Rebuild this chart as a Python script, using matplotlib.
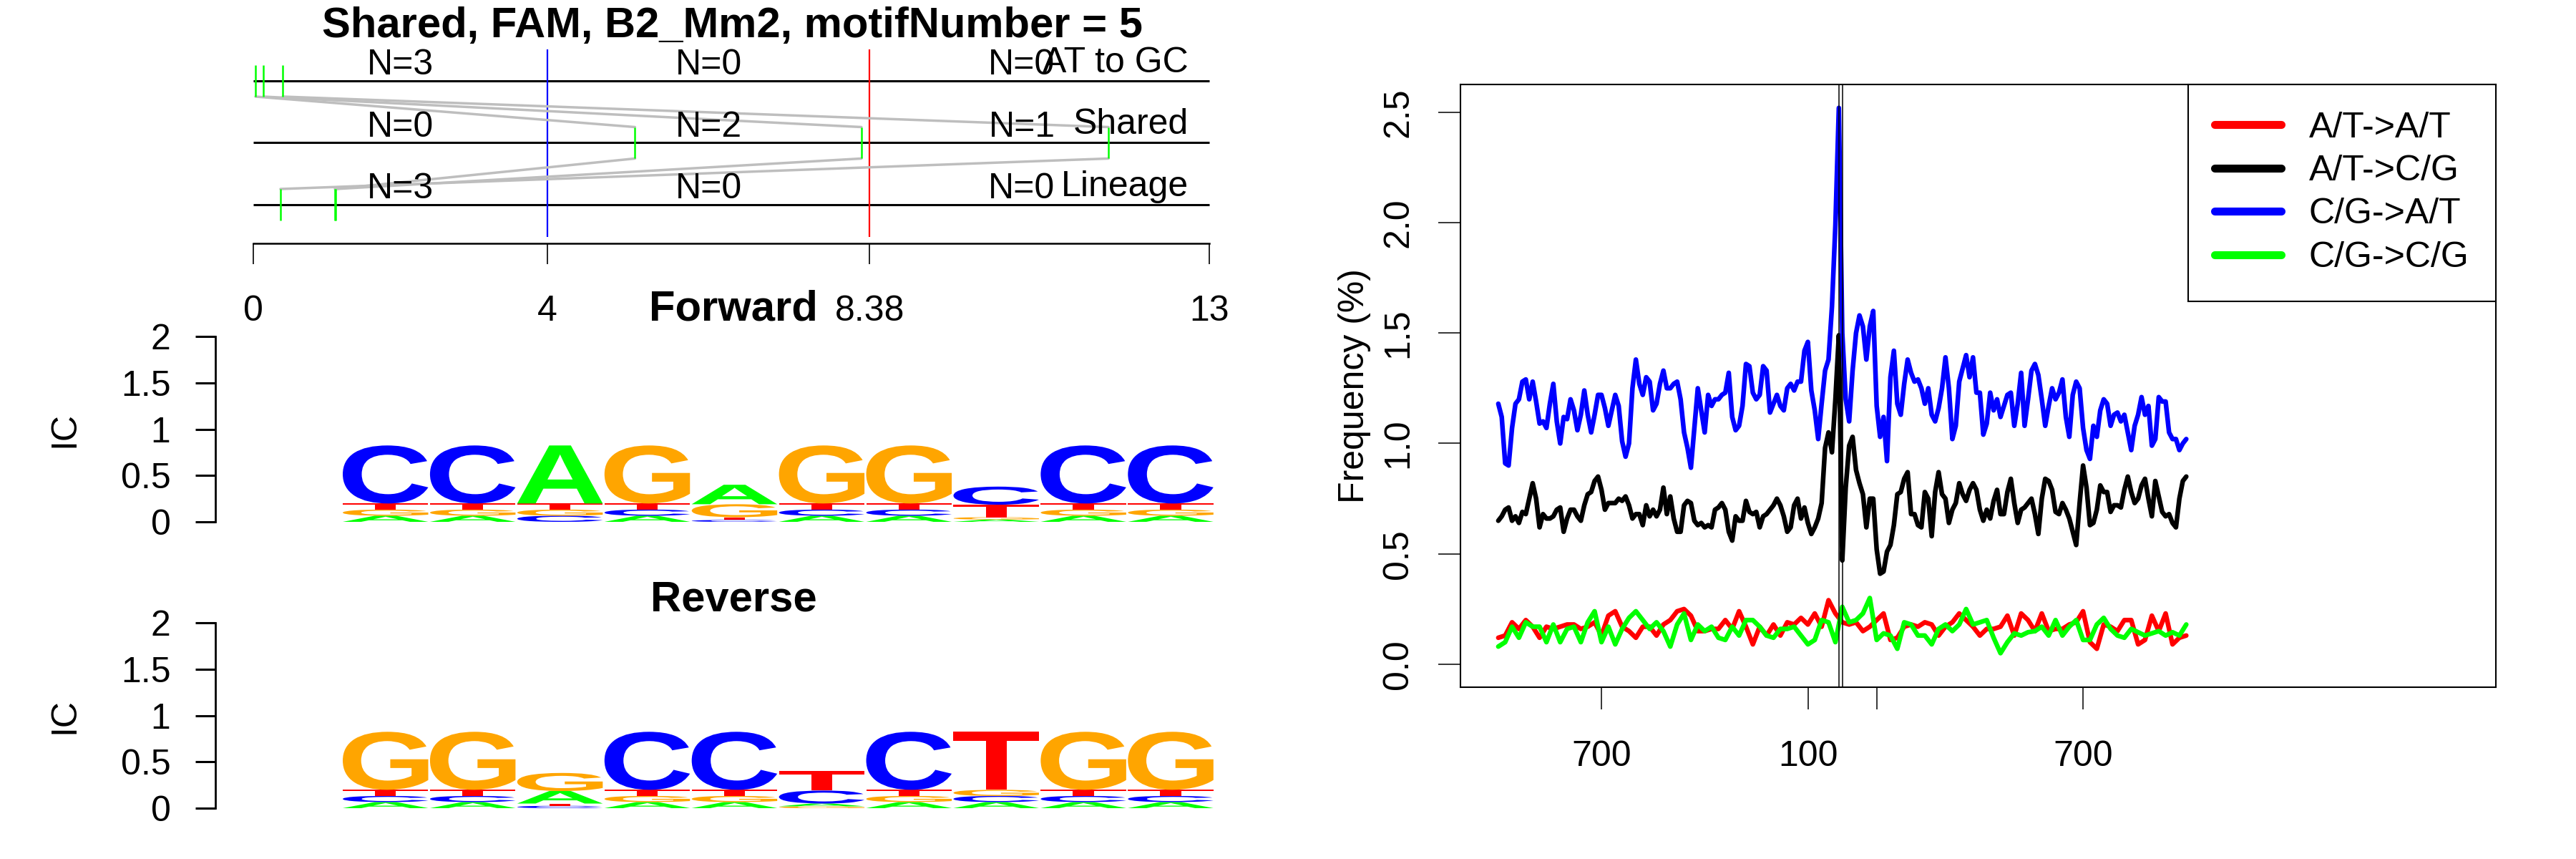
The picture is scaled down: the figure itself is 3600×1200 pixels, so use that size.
import numpy as np
import matplotlib
matplotlib.use('Agg')
import matplotlib.pyplot as plt
from matplotlib.textpath import TextPath
from matplotlib.patches import PathPatch
from matplotlib.font_manager import FontProperties
from matplotlib.transforms import Affine2D

plt.rcParams['font.family'] = ['Liberation Sans', 'DejaVu Sans']
plt.rcParams['font.size'] = 36

# ---------------- top panel: sites along the motif region
title_top = 'Shared, FAM, B2_Mm2, motifNumber = 5'
row_names = ['AT to GC', 'Shared', 'Lineage']
row_y = [3, 2, 1]
seg_breaks = [0, 4, 8.38, 13]
seg_tick_labels = ['0', '4', '8.38', '13']
n_label_x = [2.0, 6.19, 10.45]
site_pos = [[0.03, 0.135, 0.40],
            [5.19, 8.27, 11.63],
            [0.37, 1.11, 1.12]]
# index pairs: row 1 site -> row 2 site, row 2 site -> row 3 site
links_1_2 = [(0, 0), (1, 1), (2, 2)]
links_2_3 = [(0, 1), (1, 2), (2, 0)]

# ---------------- forward motif logo (heights in bits, columns 1..10)
logo_A = [0.066, 0.066, 0.626, 0.066, 0.21, 0.066, 0.066, 0.025, 0.066, 0.066]
logo_C = [0.626, 0.626, 0.066, 0.066, 0.02, 0.066, 0.066, 0.195, 0.626, 0.626]
logo_G = [0.066, 0.066, 0.066, 0.626, 0.14, 0.626, 0.626, 0.025, 0.066, 0.066]
logo_T = [0.066, 0.066, 0.066, 0.066, 0.03, 0.066, 0.066, 0.135, 0.066, 0.066]
ic_ticks = [0, 0.5, 1, 1.5, 2]
ic_labels = ['0', '0.5', '1', '1.5', '2']

# ---------------- right panel: mutation frequency around motif (%)
pos10 = np.arange(-1000, 1001, 10)
pos20 = np.arange(-1000, 1001, 20)
at_at = [0.12, 0.13, 0.19, 0.16, 0.20, 0.17, 0.12, 0.17, 0.16, 0.17,
         0.18, 0.18, 0.16, 0.17, 0.19, 0.13, 0.22, 0.24, 0.17, 0.15,
         0.12, 0.17, 0.17, 0.13, 0.18, 0.20, 0.24, 0.25, 0.22, 0.15,
         0.15, 0.16, 0.16, 0.20, 0.16, 0.24, 0.17, 0.09, 0.17, 0.13,
         0.18, 0.13, 0.19, 0.18, 0.21, 0.18, 0.23, 0.17, 0.29, 0.23,
         0.19,
         0.18, 0.19, 0.15, 0.17, 0.20, 0.23, 0.11, 0.12, 0.17, 0.18,
         0.17, 0.19, 0.18, 0.13, 0.17, 0.19, 0.23, 0.20, 0.17, 0.13,
         0.16, 0.16, 0.17, 0.22, 0.13, 0.23, 0.20, 0.15, 0.23, 0.15,
         0.16, 0.16, 0.18, 0.19, 0.24, 0.10, 0.07, 0.18, 0.17, 0.15,
         0.20, 0.20, 0.09, 0.11, 0.22, 0.15, 0.23, 0.09, 0.12, 0.13]
at_cg = [0.65, 0.67, 0.70, 0.71, 0.65, 0.67, 0.64, 0.69, 0.68, 0.75,
         0.82, 0.75, 0.62, 0.68, 0.66, 0.66, 0.67, 0.70, 0.71, 0.60,
         0.66, 0.70, 0.70, 0.67, 0.65, 0.72, 0.77, 0.78, 0.83, 0.85,
         0.79, 0.70, 0.73, 0.73, 0.73, 0.75, 0.74, 0.76, 0.72, 0.66,
         0.68, 0.68, 0.63, 0.72, 0.67, 0.70, 0.67, 0.70, 0.80, 0.68,
         0.76, 0.66, 0.60, 0.60, 0.72, 0.74, 0.73, 0.65, 0.63, 0.64,
         0.62, 0.63, 0.62, 0.70, 0.71, 0.73, 0.70, 0.60, 0.56,
         0.67, 0.65, 0.65, 0.74, 0.69, 0.68, 0.69, 0.62, 0.67, 0.68,
         0.70, 0.72, 0.75, 0.72, 0.67, 0.60, 0.62, 0.72, 0.75, 0.66,
         0.71, 0.64, 0.59, 0.62, 0.66, 0.73, 0.98, 1.05, 0.96, 1.20,
         1.49, 0.47, 0.80, 0.99, 1.03, 0.88, 0.82, 0.77, 0.62, 0.75,
         0.75, 0.52, 0.41, 0.42, 0.51, 0.54, 0.63, 0.77, 0.78, 0.84,
         0.87, 0.68, 0.68, 0.63, 0.62, 0.78, 0.75, 0.58, 0.78, 0.87,
         0.77, 0.75, 0.64, 0.70, 0.73, 0.82,
         0.77, 0.74, 0.79, 0.82, 0.79, 0.70, 0.65, 0.70, 0.66, 0.74,
         0.79, 0.68, 0.68, 0.78, 0.84, 0.73, 0.64, 0.70, 0.71, 0.73,
         0.75, 0.68, 0.59, 0.75, 0.84, 0.83, 0.79, 0.69, 0.68, 0.73,
         0.70, 0.66, 0.60, 0.54, 0.73, 0.90, 0.80, 0.63, 0.64, 0.70,
         0.81, 0.78, 0.78, 0.69, 0.72, 0.72, 0.71, 0.79, 0.85, 0.78,
         0.73, 0.75, 0.81, 0.84, 0.75, 0.67, 0.83, 0.76, 0.69, 0.67,
         0.68, 0.64, 0.62, 0.75, 0.83, 0.85]
cg_at = [1.18, 1.12, 0.91, 0.90, 1.07, 1.18, 1.20, 1.28, 1.29, 1.20,
         1.28, 1.19, 1.09, 1.10, 1.07, 1.18, 1.27, 1.10, 1.00, 1.12,
         1.11, 1.20, 1.15, 1.06, 1.13, 1.24, 1.13, 1.05, 1.13, 1.22,
         1.22, 1.16, 1.08, 1.15, 1.22, 1.17, 1.01, 0.94, 1.00, 1.25,
         1.38, 1.27, 1.22, 1.30, 1.28, 1.15, 1.18, 1.27, 1.33, 1.25,
         1.25, 1.27, 1.28, 1.20, 1.05, 0.98, 0.89, 1.07, 1.25, 1.15,
         1.05, 1.22, 1.17, 1.20, 1.20, 1.22, 1.23, 1.32, 1.12,
         1.06, 1.08, 1.17, 1.36, 1.35, 1.23, 1.20, 1.22, 1.35, 1.33,
         1.14, 1.18, 1.22, 1.17, 1.15, 1.25, 1.27, 1.24, 1.28, 1.28,
         1.42, 1.46, 1.24, 1.15, 1.02, 1.18, 1.33, 1.38, 1.62, 1.99,
         2.52, 1.50, 1.20, 1.10, 1.33, 1.50, 1.58, 1.53, 1.38, 1.53,
         1.60, 1.17, 1.03, 1.12, 0.92, 1.30, 1.42, 1.18, 1.13, 1.27,
         1.38, 1.32, 1.28, 1.29, 1.25, 1.18, 1.25, 1.13, 1.10, 1.16,
         1.25, 1.39, 1.25, 1.02, 1.08, 1.28,
         1.34, 1.40, 1.30, 1.39, 1.23, 1.23, 1.04, 1.09, 1.23, 1.15,
         1.20, 1.12, 1.17, 1.22, 1.23, 1.08, 1.18, 1.32, 1.08, 1.20,
         1.33, 1.36, 1.31, 1.20, 1.08, 1.17, 1.25, 1.20, 1.23, 1.29,
         1.12, 1.03, 1.22, 1.28, 1.25, 1.07, 0.97, 0.93, 1.08, 1.03,
         1.15, 1.20, 1.18, 1.08, 1.13, 1.14, 1.10, 1.13, 1.05, 0.97,
         1.08, 1.13, 1.21, 1.13, 1.17, 0.99, 1.02, 1.21, 1.19, 1.19,
         1.05, 1.02, 1.02, 0.97, 1.00, 1.02]
cg_cg = [0.08, 0.10, 0.17, 0.12, 0.19, 0.17, 0.17, 0.10, 0.18, 0.10,
         0.16, 0.17, 0.10, 0.19, 0.24, 0.10, 0.17, 0.09, 0.16, 0.21,
         0.24, 0.20, 0.16, 0.19, 0.15, 0.08, 0.18, 0.23, 0.11, 0.18,
         0.15, 0.17, 0.12, 0.11, 0.17, 0.13, 0.20, 0.20, 0.17, 0.13,
         0.12, 0.16, 0.16, 0.17, 0.13, 0.09, 0.11, 0.20, 0.19, 0.10,
         0.26,
         0.19, 0.20, 0.23, 0.30, 0.11, 0.14, 0.13, 0.07, 0.19, 0.18,
         0.13, 0.13, 0.09, 0.16, 0.18, 0.15, 0.18, 0.25, 0.18, 0.19,
         0.20, 0.12, 0.05, 0.10, 0.14, 0.13, 0.145, 0.15, 0.17, 0.13,
         0.20, 0.13, 0.17, 0.20, 0.11, 0.11, 0.18, 0.21, 0.16, 0.13,
         0.12, 0.16, 0.145, 0.13, 0.14, 0.15, 0.13, 0.145, 0.13, 0.18]
series_names = ['A/T->A/T', 'A/T->C/G', 'C/G->A/T', 'C/G->C/G']
series_colors = ['#FF0000', '#000000', '#0000FF', '#00FF00']
motif_edges = [-10, 0]
x_ticks = [-700, -100, 100, 700]
x_tick_labels = ['700', '100', '', '700']

W, H = 3600, 1200
fig = plt.figure(figsize=(36, 12), dpi=100)


def px_axes(left, top, right, bottom):
    return fig.add_axes([left / W, 1 - bottom / H, (right - left) / W, (bottom - top) / H])


#--------------------------------------------- top panel
ax0 = px_axes(354, 0, 1690, 400)
ax0.set_xlim(0, 13)
ax0.set_ylim(-0.318, 4.306)
ax0.patch.set_visible(False)
for s in ['top', 'right', 'left']:
    ax0.spines[s].set_visible(False)
ax0.spines['bottom'].set_position(('data', 0.376))
ax0.spines['bottom'].set_bounds(0, 13)
ax0.spines['bottom'].set_linewidth(1.8)
ax0.set_yticks([])
ax0.set_xticks(seg_breaks)
ax0.set_xticklabels(seg_tick_labels)
ax0.tick_params(axis='x', length=21, width=1.2, pad=31)

ax0.hlines(row_y, 0, 13, color='black', lw=2.2, clip_on=False)
ax0.vlines(seg_breaks[1], 0.48, 3.51, color='#0000FF', lw=1.6)
ax0.vlines(seg_breaks[2], 0.48, 3.51, color='#FF0000', lw=1.6)

for (i, j) in links_1_2:
    ax0.plot([site_pos[0][i], site_pos[1][j]], [row_y[0] - 0.254, row_y[1] + 0.254],
             color='#BEBEBE', lw=2.5, solid_capstyle='round')
for (i, j) in links_2_3:
    ax0.plot([site_pos[1][i], site_pos[2][j]], [row_y[1] - 0.254, row_y[2] + 0.254],
             color='#BEBEBE', lw=2.5, solid_capstyle='round')

for r, yv in enumerate(row_y):
    ax0.vlines(site_pos[r], yv - 0.254, yv + 0.254, color='#00FF00', lw=1.8, clip_on=False)
    counts = np.histogram(site_pos[r], bins=seg_breaks)[0]
    for k in range(3):
        ax0.text(n_label_x[k], yv + 0.25, 'N=%d' % counts[k], ha='center', va='center')
    ax0.text(12.72, yv + 0.29, row_names[r], ha='right', va='center')

fig.text(1023 / W, 1 - 52 / H, title_top, ha='center', va='baseline',
         fontsize=43, fontweight='bold')

#--------------------------------------------- logos
logo_font = FontProperties(family='Liberation Sans', weight='bold')
logo_colors = {'A': '#00FF00', 'C': '#0000FF', 'G': '#FFA500', 'T': '#FF0000'}
glyphs = {b: TextPath((0, 0), b, size=1, prop=logo_font) for b in 'ACGT'}


def draw_letter(ax, b, x, y, w, h):
    p = glyphs[b]
    bb = p.get_extents()
    tr = Affine2D().translate(-bb.x0, -bb.y0).scale(w / bb.width, h / bb.height).translate(x, y)
    ax.add_patch(PathPatch(tr.transform_path(p), facecolor=logo_colors[b], edgecolor='none'))


def draw_logo(ax, heights):
    n = len(heights['A'])
    for i in range(n):
        y = 0
        # smallest at bottom, ties in alphabetical order
        for b in sorted('ACGT', key=lambda c: heights[c][i]):
            h = heights[b][i]
            draw_letter(ax, b, i + 1 - 0.49, y, 0.98, h)
            y += h


def logo_axes(top, bottom):
    ax = px_axes(301, top, 1697, bottom)
    ax.set_xlim(-0.95, 10.5)
    ax.set_ylim(0, 2)
    ax.patch.set_visible(False)
    for s in ['top', 'right', 'bottom']:
        ax.spines[s].set_visible(False)
    ax.spines['left'].set_bounds(0, 2)
    ax.spines['left'].set_linewidth(2)
    ax.set_xticks([])
    ax.set_yticks(ic_ticks)
    ax.set_yticklabels(ic_labels)
    ax.tick_params(axis='y', length=20, width=2.2, pad=25)
    return ax


fwd = {'A': logo_A, 'C': logo_C, 'G': logo_G, 'T': logo_T}
comp = {'A': 'T', 'C': 'G', 'G': 'C', 'T': 'A'}
rev = {b: fwd[comp[b]][::-1] for b in 'ACGT'}

ax1 = logo_axes(470, 729)
draw_logo(ax1, fwd)
ax2 = logo_axes(870, 1129)
draw_logo(ax2, rev)

fig.text(1025 / W, 1 - 447 / H, 'Forward', ha='center', va='baseline', fontsize=43, fontweight='bold')
fig.text(1025 / W, 1 - 853 / H, 'Reverse', ha='center', va='baseline', fontsize=43, fontweight='bold')
fig.text(90 / W, 1 - 600 / H, 'IC', rotation=90, ha='center', va='center')
fig.text(90 / W, 1 - 1000 / H, 'IC', rotation=90, ha='center', va='center')

#--------------------------------------------- right panel
ax3 = px_axes(2041, 118, 3488, 960)
series_x = [pos20, pos10, pos10, pos20]
for xs, vals, name, col in zip(series_x, [at_at, at_cg, cg_at, cg_cg], series_names, series_colors):
    ax3.plot(xs, vals, color=col, lw=4.7, label=name,
             solid_joinstyle='round', solid_capstyle='round')
for e in motif_edges:
    ax3.axvline(e, color='black', lw=1.1)
ax3.set_xlim(-1110, 1900)
ax3.set_ylim(-0.104, 2.626)
ax3.set_xticks(x_ticks)
ax3.set_xticklabels(x_tick_labels)
ax3.set_yticks([0, 0.5, 1.0, 1.5, 2.0, 2.5])
ax3.set_yticklabels(['0.0', '0.5', '1.0', '1.5', '2.0', '2.5'])
ax3.tick_params(axis='x', length=22, width=1.1, pad=31)
ax3.tick_params(axis='y', length=22, width=1.1, pad=24)
for lab in ax3.get_yticklabels():
    lab.set_rotation(90)
    lab.set_va('center')
for s in ax3.spines.values():
    s.set_linewidth(1.5)
fig.text(1893 / W, 1 - 539 / H, 'Frequency (%)', rotation=90, ha='center', va='center')

leg = ax3.legend(loc='upper right', fancybox=False, edgecolor='black', framealpha=1,
                 borderaxespad=0, handlelength=1.85, handletextpad=0.78,
                 labelspacing=0.29, borderpad=0.75)
leg.get_frame().set_linewidth(1.5)
for ln in leg.get_lines():
    ln.set_linewidth(8)

fig.savefig('out.png', dpi=100)
